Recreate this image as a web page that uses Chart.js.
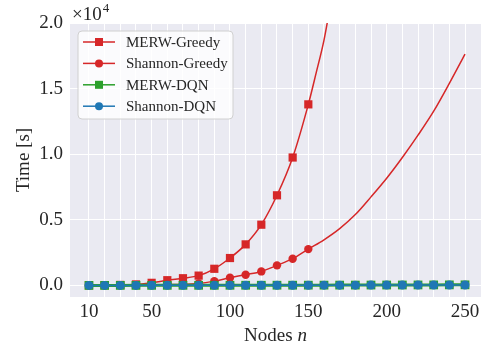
<!DOCTYPE html>
<html>
<head>
<meta charset="utf-8">
<script src="https://cdn.jsdelivr.net/npm/chart.js@4.4.0/dist/chart.umd.min.js"></script>
<style>
html, body { margin: 0; padding: 0; background: #fff; }
</style>
</head>
<body>
<canvas id="chart" width="481" height="349"></canvas>
<script>
// data (time in seconds)
const nodes = [10, 20, 30, 40, 50, 60, 70, 80, 90, 100, 110, 120, 130, 140, 150, 160, 170, 180, 190, 200, 210, 220, 230, 240, 250];
const greedyNodes = [10, 20, 30, 40, 50, 60, 70, 80, 90, 100, 110, 120, 130, 140, 150];
const merwGreedy = [10, 20, 40, 80, 200, 400, 550, 750, 1270, 2090, 3130, 4630, 6870, 9750, 13800];
const shannonGreedy = [5, 10, 15, 25, 40, 60, 90, 150, 330, 590, 820, 1070, 1530, 2040, 2770];
// fitted curves past the last measured point
const merwFitNodes = [155, 160, 165];
const merwFit = [16200, 18700, 22000];
const shannonFitNodes = [160, 170, 180, 190, 200, 210, 220, 230, 240, 250];
const shannonFit = [3480, 4330, 5400, 6750, 8170, 9750, 11450, 13280, 15400, 17630];
const merwDqn = [3, 4, 5, 6, 7, 8, 9, 10, 12, 13, 15, 16, 18, 20, 22, 24, 26, 28, 30, 33, 35, 38, 41, 44, 47];
const shannonDqn = [2, 3, 4, 5, 6, 7, 8, 9, 10, 11, 12, 14, 15, 17, 18, 20, 22, 24, 26, 28, 30, 32, 34, 36, 38];
const xLabels = [10, 50, 100, 150, 200, 250];
const yTicks = [0, 5000, 10000, 15000, 20000];

const RED = '#d62728', GREEN = '#2ca02c', BLUE = '#1f77b4';
const TEXT = '#262626';
const SERIF = '"Liberation Serif", "DejaVu Serif", serif';

function pts(xs, ys) {
    return xs.map((x, i) => ({ x: x, y: ys[i] }));
}

// Greedy: markers only on measured points, then the fitted curve
const merwGreedyPts = pts(greedyNodes, merwGreedy).concat(pts(merwFitNodes, merwFit));
const shannonGreedyPts = pts(greedyNodes, shannonGreedy).concat(pts(shannonFitNodes, shannonFit));
const radiusFor = (arr, r) => arr.map(p => p.x <= 150 ? r : 0);

const legendItems = [
    { label: 'MERW-Greedy', color: RED, style: 'rect' },
    { label: 'Shannon-Greedy', color: RED, style: 'circle' },
    { label: 'MERW-DQN', color: GREEN, style: 'rect' },
    { label: 'Shannon-DQN', color: BLUE, style: 'circle' }
];

// background + extra texts + legend inside the plot
const decor = {
    id: 'decor',
    beforeDraw(chart) {
        const { ctx, chartArea: a } = chart;
        ctx.save();
        ctx.fillStyle = '#eaeaf2';
        ctx.fillRect(a.left, a.top, a.right - a.left, a.bottom - a.top);
        ctx.restore();
    },
    afterDraw(chart) {
        const { ctx, chartArea: a } = chart;
        ctx.save();
        ctx.fillStyle = TEXT;
        ctx.textBaseline = 'alphabetic';

        // ×10^4 offset text
        ctx.font = '19px ' + SERIF;
        ctx.textAlign = 'left';
        ctx.fillText('×10', 72, 20);
        const w = ctx.measureText('×10').width;
        ctx.font = '13px ' + SERIF;
        ctx.fillText('4', 72 + w + 1, 12);

        // y title
        ctx.font = '19px ' + SERIF;
        ctx.save();
        ctx.translate(24, (a.top + a.bottom) / 2);
        ctx.rotate(-Math.PI / 2);
        ctx.textAlign = 'center';
        ctx.textBaseline = 'middle';
        ctx.fillText('Time [s]', 0, 0);
        ctx.restore();

        // x title, "n" in italic
        ctx.font = '19px ' + SERIF;
        const t1 = 'Nodes ';
        const w1 = ctx.measureText(t1).width;
        ctx.font = 'italic 19px ' + SERIF;
        const w2 = ctx.measureText('n').width;
        const cx = (a.left + a.right) / 2;
        let x0 = cx - (w1 + w2) / 2;
        ctx.textBaseline = 'middle';
        ctx.textAlign = 'left';
        ctx.font = '19px ' + SERIF;
        ctx.fillText(t1, x0, 336);
        ctx.font = 'italic 19px ' + SERIF;
        ctx.fillText('n', x0 + w1, 336);

        // legend box
        const bx = 78, by = 31, bw = 155, bh = 88;
        ctx.beginPath();
        ctx.roundRect(bx, by, bw, bh, 4);
        ctx.fillStyle = 'rgba(255,255,255,0.8)';
        ctx.fill();
        ctx.strokeStyle = '#d0d0d0';
        ctx.lineWidth = 1;
        ctx.stroke();

        legendItems.forEach((it, i) => {
            const y = 42 + i * 21.4;
            ctx.strokeStyle = it.color;
            ctx.lineWidth = 1.5;
            ctx.beginPath();
            ctx.moveTo(83, y);
            ctx.lineTo(115, y);
            ctx.stroke();
            ctx.fillStyle = it.color;
            if (it.style === 'rect') {
                ctx.fillRect(95, y - 4, 8, 8);
            } else {
                ctx.beginPath();
                ctx.arc(99, y, 4, 0, Math.PI * 2);
                ctx.fill();
            }
            ctx.fillStyle = TEXT;
            ctx.font = '15px ' + SERIF;
            ctx.textBaseline = 'middle';
            ctx.textAlign = 'left';
            ctx.fillText(it.label, 126, y + 1);
        });
        ctx.restore();
    }
};

const ctx = document.getElementById('chart').getContext('2d');
new Chart(ctx, {
    type: 'line',
    data: {
        datasets: [
            {
                label: 'MERW-Greedy',
                data: merwGreedyPts,
                borderColor: RED,
                backgroundColor: RED,
                borderWidth: 1.5,
                pointStyle: 'rect',
                pointRadius: radiusFor(merwGreedyPts, 5.8),
                pointBorderWidth: 0,
                cubicInterpolationMode: 'monotone',
                order: 3
            },
            {
                label: 'Shannon-Greedy',
                data: shannonGreedyPts,
                borderColor: RED,
                backgroundColor: RED,
                borderWidth: 1.5,
                pointStyle: 'circle',
                pointRadius: radiusFor(shannonGreedyPts, 4.2),
                pointBorderWidth: 0,
                cubicInterpolationMode: 'monotone',
                order: 2
            },
            {
                label: 'MERW-DQN',
                data: pts(nodes, merwDqn),
                borderColor: GREEN,
                backgroundColor: GREEN,
                borderWidth: 3,
                pointStyle: 'rect',
                pointRadius: 6.2,
                pointBorderWidth: 0,
                order: 1
            },
            {
                label: 'Shannon-DQN',
                data: pts(nodes, shannonDqn),
                borderColor: BLUE,
                backgroundColor: BLUE,
                borderWidth: 1.5,
                pointStyle: 'circle',
                pointRadius: 4.5,
                pointBorderWidth: 0,
                order: 0
            }
        ]
    },
    options: {
        responsive: false,
        animation: false,
        layout: { autoPadding: false, padding: { top: 23, right: 0, left: 0, bottom: 0 } },
        plugins: {
            legend: { display: false },
            tooltip: { enabled: false }
        },
        scales: {
            x: {
                type: 'linear',
                min: -2.1,
                max: 260.2,
                afterBuildTicks: s => { s.ticks = nodes.map(v => ({ value: v })); },
                afterFit: s => { s.height = 52; s.paddingLeft = 0; s.paddingRight = 0; },
                grid: { color: '#ffffff', lineWidth: 1, drawTicks: false },
                border: { display: false },
                ticks: {
                    autoSkip: false,
                    maxRotation: 0,
                    padding: 4,
                    color: TEXT,
                    font: { family: SERIF, size: 19 },
                    callback: v => xLabels.includes(v) ? String(v) : ''
                }
            },
            y: {
                min: -880,
                max: 20000,
                afterBuildTicks: s => { s.ticks = yTicks.map(v => ({ value: v })); },
                afterFit: s => { s.width = 70; s.paddingTop = 0; s.paddingBottom = 0; },
                grid: { color: '#ffffff', lineWidth: 1, drawTicks: false },
                border: { display: false },
                ticks: {
                    padding: 7,
                    color: TEXT,
                    font: { family: SERIF, size: 19 },
                    callback: v => (v / 10000).toFixed(1)
                }
            }
        }
    },
    plugins: [decor]
});
</script>
</body>
</html>
